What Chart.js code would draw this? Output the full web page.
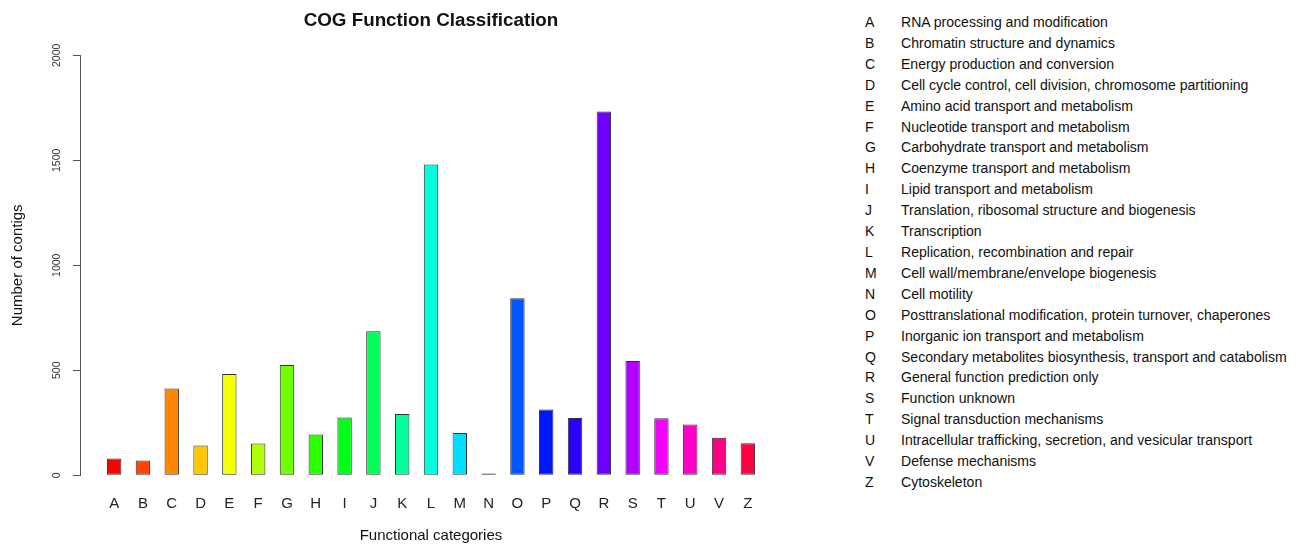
<!DOCTYPE html>
<html>
<head>
<meta charset="utf-8">
<script src="https://cdn.jsdelivr.net/npm/chart.js@4.4.0/dist/chart.umd.min.js"></script>
<style>
  body { margin: 0; background: #fff; font-family: "Liberation Sans", Arial, sans-serif; }
  #wrap { position: relative; width: 1298px; height: 545px; }
  #cogChart { position: absolute; left: 0; top: 0; }
  #legenda { position: absolute; left: 865px; top: 12px; font-size: 14.05px; color: #111; line-height: 20.9px; }
  #legenda .row { white-space: nowrap; }
  #legenda .let { display: inline-block; width: 36px; }
</style>
</head>
<body>
<div id="wrap">
  <canvas id="cogChart" width="860" height="545"></canvas>
  <div id="legenda"></div>
</div>
<script>
// categorias COG e contagens
var categorias = ['A', 'B', 'C', 'D', 'E', 'F', 'G', 'H', 'I', 'J', 'K', 'L', 'M', 'N', 'O', 'P', 'Q', 'R', 'S', 'T', 'U', 'V', 'Z'];
var contagens = [80, 70, 413, 141, 482, 151, 525, 194, 275, 686, 292, 1480, 201, 8, 843, 313, 273, 1733, 544, 271, 241, 178, 152];
var descricoes = [
    'RNA processing and modification',
    'Chromatin structure and dynamics',
    'Energy production and conversion',
    'Cell cycle control, cell division, chromosome partitioning',
    'Amino acid transport and metabolism',
    'Nucleotide transport and metabolism',
    'Carbohydrate transport and metabolism',
    'Coenzyme transport and metabolism',
    'Lipid transport and metabolism',
    'Translation, ribosomal structure and biogenesis',
    'Transcription',
    'Replication, recombination and repair',
    'Cell wall/membrane/envelope biogenesis',
    'Cell motility',
    'Posttranslational modification, protein turnover, chaperones',
    'Inorganic ion transport and metabolism',
    'Secondary metabolites biosynthesis, transport and catabolism',
    'General function prediction only',
    'Function unknown',
    'Signal transduction mechanisms',
    'Intracellular trafficking, secretion, and vesicular transport',
    'Defense mechanisms',
    'Cytoskeleton'
];
var ticksY = [0, 500, 1000, 1500, 2000];

var fonte = '"Liberation Sans", Arial, sans-serif';

// cores estilo rainbow() do R
var cores = categorias.map(function (c, i) {
    return 'hsl(' + (i * 360 / categorias.length) + ', 100%, 50%)';
});

// legenda em texto a direita
var legenda = document.getElementById('legenda');
for (var i = 0; i < categorias.length; i++) {
    var linha = document.createElement('div');
    linha.className = 'row';
    linha.innerHTML = '<span class="let">' + categorias[i] + '</span>' + descricoes[i];
    legenda.appendChild(linha);
}

// linha do eixo y so entre o primeiro e o ultimo tick (como no R)
var eixoY = {
    id: 'eixoY',
    afterDatasetsDraw: function (chart) {
        var y = chart.scales.y;
        var ctx = chart.ctx;
        var x = Math.round(chart.chartArea.left) - 0.5;
        ctx.save();
        ctx.strokeStyle = '#555';
        ctx.lineWidth = 1;
        ctx.beginPath();
        ctx.moveTo(x, y.getPixelForValue(ticksY[0]));
        ctx.lineTo(x, y.getPixelForValue(ticksY[ticksY.length - 1]));
        ctx.stroke();
        ctx.restore();
    }
};

var ctx = document.getElementById('cogChart').getContext('2d');
var chart = new Chart(ctx, {
    type: 'bar',
    data: {
        datasets: [{
            data: contagens.map(function (v, i) { return { x: i, y: v }; }),
            backgroundColor: cores,
            borderColor: '#333',
            borderWidth: 1,
            borderSkipped: false,
            barPercentage: 0.5,
            categoryPercentage: 1
        }]
    },
    options: {
        responsive: false,
        animation: false,
        layout: { padding: { left: 0, right: 79, top: 0, bottom: 0 } },
        plugins: {
            legend: { display: false },
            tooltip: { enabled: false },
            title: {
                display: true,
                fullSize: false,
                text: 'COG Function Classification',
                color: '#111',
                font: { family: fonte, size: 18.8, weight: 'bold' },
                padding: { top: 10, bottom: 6 }
            }
        },
        scales: {
            x: {
                type: 'linear',
                offset: false,
                min: -1.15,
                max: categorias.length - 1 + 1.15,
                grid: { display: false, drawTicks: false },
                border: { display: false },
                afterBuildTicks: function (scale) {
                    scale.ticks = categorias.map(function (c, i) { return { value: i }; });
                },
                afterFit: function (scale) { scale.height = 53; },
                ticks: {
                    autoSkip: false,
                    minRotation: 0,
                    maxRotation: 0,
                    padding: 3,
                    color: '#222',
                    font: { family: fonte, size: 15 },
                    callback: function (v) { return categorias[v]; }
                },
                title: {
                    display: true,
                    text: 'Functional categories',
                    color: '#111',
                    font: { family: fonte, size: 15 },
                    padding: { top: 0, bottom: 0 }
                }
            },
            y: {
                min: -80,
                max: 2080,
                grid: { display: true, drawOnChartArea: false, drawTicks: true, tickLength: 8, color: '#555' },
                border: { display: false },
                afterBuildTicks: function (scale) {
                    scale.ticks = ticksY.map(function (v) { return { value: v }; });
                },
                afterFit: function (scale) { scale.width = 81; },
                ticks: {
                    minRotation: 90,
                    maxRotation: 90,
                    crossAlign: 'center',
                    padding: 4,
                    color: '#333',
                    font: { family: fonte, size: 10.5 },
                    callback: function (v) { return String(v); }
                },
                title: {
                    display: true,
                    text: 'Number of contigs',
                    color: '#111',
                    font: { family: fonte, size: 15 },
                    padding: { top: 9, bottom: 0 }
                }
            }
        }
    },
    plugins: [eixoY]
});
</script>
</body>
</html>
